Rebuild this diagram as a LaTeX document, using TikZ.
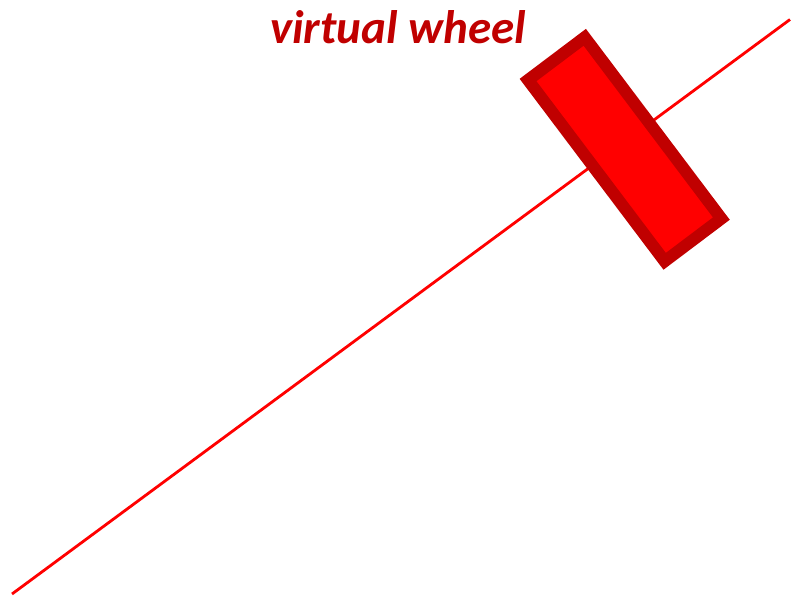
\documentclass[tikz,border=0pt]{standalone}
\usepackage{fontspec}
\setmainfont{Carlito}
\definecolor{darkred}{HTML}{C00000}
\definecolor{brightred}{HTML}{FF0000}
\tikzset{
  axisline/.style={draw=brightred, line width=2.8pt},
  wheelbox/.style={draw=darkred, fill=brightred, line width=12pt, minimum width=227pt, minimum height=71pt, inner sep=0pt, rectangle},
  titletext/.style={text=darkred, font=\fontsize{47}{56}\selectfont\bfseries\itshape, anchor=base}
}
\begin{document}
\begin{tikzpicture}[x=1pt,y=-1pt]
\useasboundingbox (0,0) rectangle (791,599);
\coordinate (a) at (12,594);
\coordinate (b) at (790,19.5);
\draw[axisline] (a) -- (b);
\node[wheelbox, rotate=-53] (wheel) at (624.7,149.3) {};
\node[titletext] (title) at (398,44) {virtual wheel};
\end{tikzpicture}
\end{document}
